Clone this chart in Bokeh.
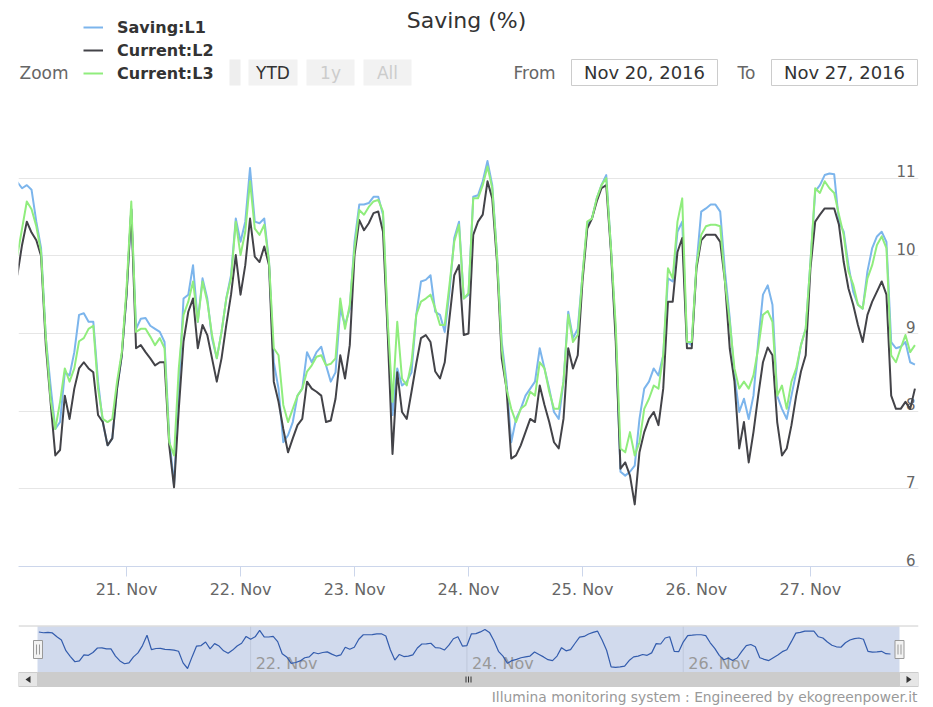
from bokeh.plotting import figure
from bokeh.models import Range1d, FixedTicker, Legend, LegendItem
from bokeh.layouts import column
from bokeh.embed import file_html
from bokeh.resources import INLINE
from bokeh.core.properties import value

FONT = "DejaVu Sans"

# ---------------- data (hourly, hours since 20 Nov 2016 00:00) ----------------
hours = list(range(1, 191))

saving_l1 = [
    10.95, 10.87, 10.91, 10.85, 10.44, 10.10, 8.95, 8.33, 7.77, 7.86,
    8.50, 8.46, 8.76, 9.24, 9.26, 9.15, 9.15, 8.38, 7.86, 7.56,
    7.65, 8.29, 8.72, 9.50, 10.60, 9.06, 9.19, 9.20, 9.10, 9.06,
    9.02, 8.89, 7.65, 7.05, 8.29, 9.45, 9.50, 9.88, 9.15, 9.71,
    9.45, 8.94, 8.68, 9.02, 9.45, 9.75, 10.48, 10.18, 10.44, 11.13,
    10.44, 10.42, 10.48, 9.92, 8.63, 8.29, 7.60, 7.69, 7.86, 8.20,
    8.29, 8.76, 8.63, 8.76, 8.83, 8.59, 8.38, 8.50, 9.32, 9.11,
    9.32, 10.18, 10.66, 10.66, 10.68, 10.76, 10.76, 10.53, 9.06, 7.95,
    8.55, 8.33, 8.38, 8.50, 9.24, 9.67, 9.69, 9.75, 9.28, 9.24,
    9.02, 9.54, 10.23, 10.44, 9.45, 9.50, 10.76, 10.78, 10.96, 11.22,
    10.91, 10.01, 8.89, 8.38, 7.60, 7.90, 8.03, 8.20, 8.29, 8.38,
    8.81, 8.55, 8.29, 7.99, 7.90, 8.38, 9.28, 8.94, 9.06, 9.75,
    10.40, 10.48, 10.74, 10.91, 11.04, 10.10, 9.00, 7.22, 7.17, 7.22,
    7.30, 7.90, 8.29, 8.38, 8.55, 8.46, 8.72, 9.71, 9.67, 10.31,
    10.44, 8.89, 8.85, 9.88, 10.57, 10.61, 10.66, 10.66, 10.57, 9.80,
    9.20, 8.46, 7.99, 8.16, 7.90, 8.20, 8.89, 9.50, 9.62, 9.37,
    8.20, 8.03, 7.90, 8.20, 8.50, 8.85, 9.06, 9.92, 10.83, 10.91,
    11.04, 11.06, 11.05, 10.44, 10.31, 9.88, 9.54, 9.37, 9.32, 9.80,
    10.10, 10.25, 10.31, 10.18, 8.89, 8.81, 8.83, 8.89, 8.63, 8.60,
]

current_l2 = [
    9.75, 10.14, 10.44, 10.30, 10.20, 10.00, 8.85, 8.12, 7.43, 7.50,
    8.20, 7.90, 8.29, 8.55, 8.63, 8.55, 8.50, 7.95, 7.86, 7.56,
    7.65, 8.29, 8.72, 9.50, 10.60, 8.81, 8.85, 8.76, 8.68, 8.59,
    8.63, 8.63, 7.55, 7.02, 8.03, 8.90, 9.28, 9.45, 8.81, 9.11,
    8.98, 8.68, 8.38, 8.68, 9.11, 9.50, 10.01, 9.50, 9.88, 10.48,
    9.99, 9.92, 10.12, 9.88, 8.38, 8.12, 7.77, 7.47, 7.65, 7.82,
    7.90, 8.38, 8.29, 8.25, 8.20, 7.86, 7.88, 8.16, 8.72, 8.42,
    8.85, 10.01, 10.46, 10.33, 10.42, 10.55, 10.57, 10.31, 8.98, 7.45,
    8.50, 7.99, 7.90, 8.25, 8.61, 8.94, 8.98, 8.89, 8.51, 8.42,
    8.63, 9.20, 9.75, 9.88, 8.98, 9.00, 10.27, 10.44, 10.53, 10.96,
    10.74, 9.92, 8.68, 8.29, 7.39, 7.43, 7.56, 7.73, 7.90, 7.86,
    8.33, 8.08, 7.86, 7.60, 7.52, 7.90, 8.81, 8.55, 8.72, 9.67,
    10.35, 10.48, 10.70, 10.87, 10.91, 10.05, 8.90, 7.26, 7.34, 7.17,
    6.80, 7.47, 7.73, 7.90, 7.99, 7.82, 8.29, 9.41, 9.41, 10.05,
    10.23, 8.81, 8.81, 9.84, 10.20, 10.27, 10.27, 10.27, 10.18, 9.67,
    8.81, 8.38, 7.52, 7.86, 7.34, 7.73, 8.20, 8.63, 8.82, 8.72,
    7.86, 7.43, 7.52, 7.82, 8.20, 8.51, 8.72, 9.84, 10.44, 10.53,
    10.61, 10.61, 10.61, 10.40, 9.92, 9.58, 9.37, 9.11, 8.89, 9.24,
    9.41, 9.54, 9.67, 9.50, 8.20, 8.03, 8.03, 8.12, 8.03, 8.29,
]

current_l3 = [
    10.00, 10.35, 10.70, 10.60, 10.38, 10.05, 8.95, 8.16, 7.77, 8.12,
    8.55, 8.38, 8.55, 8.90, 8.94, 9.06, 9.10, 8.29, 7.90, 7.86,
    7.90, 8.38, 8.76, 9.58, 10.70, 9.02, 9.06, 9.06, 8.96, 8.85,
    8.94, 8.81, 7.60, 7.43, 8.55, 9.24, 9.41, 9.67, 9.15, 9.67,
    9.41, 8.98, 8.68, 9.02, 9.45, 9.71, 10.44, 10.01, 10.31, 10.96,
    10.35, 10.27, 10.40, 9.92, 8.81, 8.72, 8.08, 7.86, 8.03, 8.20,
    8.29, 8.51, 8.59, 8.70, 8.72, 8.59, 8.61, 8.68, 9.45, 9.06,
    9.37, 10.10, 10.59, 10.53, 10.63, 10.70, 10.72, 10.57, 9.15, 8.12,
    9.15, 8.42, 8.33, 8.63, 9.24, 9.41, 9.45, 9.50, 9.32, 9.11,
    9.11, 9.63, 10.18, 10.40, 9.45, 9.52, 10.74, 10.74, 10.91, 11.15,
    10.87, 10.01, 8.81, 8.29, 8.03, 7.86, 8.03, 8.08, 8.25, 8.20,
    8.63, 8.55, 8.25, 8.03, 8.03, 8.38, 9.24, 8.89, 8.98, 9.75,
    10.44, 10.48, 10.74, 10.91, 11.00, 10.10, 9.10, 7.52, 7.47, 7.73,
    7.43, 7.60, 8.03, 8.16, 8.33, 8.29, 8.72, 9.84, 9.71, 10.44,
    10.74, 8.89, 8.89, 9.88, 10.27, 10.38, 10.40, 10.40, 10.38, 9.67,
    9.15, 8.55, 8.29, 8.38, 8.29, 8.46, 8.81, 9.24, 9.29, 9.15,
    8.20, 8.33, 8.03, 8.38, 8.55, 8.85, 9.06, 9.92, 10.87, 10.81,
    10.96, 10.87, 10.81, 10.53, 10.27, 9.80, 9.63, 9.37, 9.32, 9.71,
    9.88, 10.14, 10.25, 10.10, 8.72, 8.63, 8.81, 8.98, 8.76, 8.85,
]

series_names = ["Saving:L1", "Current:L2", "Current:L3"]
series_colors = ["#7cb5ec", "#434348", "#90ed7d"]

x_tick_hours = [24, 48, 72, 96, 120, 144, 168]
x_tick_labels = ["21. Nov", "22. Nov", "23. Nov", "24. Nov", "25. Nov", "26. Nov", "27. Nov"]
y_ticks = [6, 7, 8, 9, 10, 11, 12]
y_tick_labels = ["6", "7", "8", "9", "10", "11"]  # top label hidden
nav_tick_hours = [48, 96, 144]
nav_tick_labels = ["22. Nov", "24. Nov", "26. Nov"]

title_text = "Saving (%)"
zoom_label = "Zoom"
range_buttons = ["YTD", "1y", "All"]
from_label, to_label = "From", "To"
from_date, to_date = "Nov 20, 2016", "Nov 27, 2016"
credits_text = "Illumina monitoring system : Engineered by ekogreenpower.it"

W = 933
BL, BR = 18, 15          # shared left/right borders (column aligns frames)

# ---------------- header: title, legend, range selector ----------------
hdr = figure(width=W, height=100, x_range=Range1d(18, 918), y_range=Range1d(100, 0),
             output_backend="svg", toolbar_location=None, title=None,
             x_axis_location=None, y_axis_location=None, min_border=0,
             min_border_left=BL, min_border_right=BR,
             outline_line_color=None, background_fill_color="white", border_fill_color="white")
hdr.xgrid.visible = False
hdr.ygrid.visible = False

hdr.text(x=[466], y=[20], text=[title_text], text_align="center", text_baseline="middle",
         text_font=value(FONT), text_font_size="22px", text_color="#333333")

hdr.text(x=[19], y=[72], text=[zoom_label], text_align="left", text_baseline="middle",
         text_font=value(FONT), text_font_size="17px", text_color="#666666")

# sliver of a hidden button behind legend
hdr.quad(left=[229], right=[240], top=[59], bottom=[85], fill_color="#eeeeee", line_color=None)

btn_left = [248, 306, 363]
btn_right = [297, 354, 411]
hdr.quad(left=btn_left, right=btn_right, top=[59] * 3, bottom=[85] * 3,
         fill_color="#f2f2f2", line_color=None)
hdr.text(x=[(a + b) / 2 for a, b in zip(btn_left, btn_right)], y=[72] * 3, text=range_buttons,
         text_align="center", text_baseline="middle", text_font=value(FONT),
         text_font_size="17px", text_color=["#333333", "#cccccc", "#cccccc"])

hdr.text(x=[513, 737], y=[72, 72], text=[from_label, to_label], text_align="left",
         text_baseline="middle", text_font=value(FONT), text_font_size="17px",
         text_color="#666666")
hdr.quad(left=[571, 771], right=[717, 917], top=[59, 59], bottom=[85, 85],
         fill_color="white", line_color="#cccccc", line_width=1)
hdr.text(x=[644, 844], y=[72, 72], text=[from_date, to_date], text_align="center",
         text_baseline="middle", text_font=value(FONT), text_font_size="18px",
         text_color="#333333")

leg_items = []
for name, col in zip(series_names, series_colors):
    r = hdr.line(x=[-50, -40], y=[-50, -50], line_color=col, line_width=2)
    leg_items.append(LegendItem(label=name, renderers=[r]))
legend = Legend(items=leg_items, location=(65, 17), orientation="vertical",
                padding=0, margin=0, spacing=3, glyph_width=20, glyph_height=20,
                label_height=20, label_standoff=14, label_text_font=FONT,
                label_text_font_size="16px", label_text_font_style="bold",
                label_text_color="#333333", border_line_color=None,
                background_fill_color="white", background_fill_alpha=1.0)
hdr.add_layout(legend)

# ---------------- main chart ----------------
main = figure(width=W, height=508, x_range=Range1d(1.25, 190.75), y_range=Range1d(6, 12),
              output_backend="svg", toolbar_location=None, title=None,
              y_axis_location=None, min_border_left=BL, min_border_right=BR,
              min_border_top=0, min_border_bottom=42, outline_line_color=None,
              background_fill_color="white", border_fill_color="white")
main.xgrid.visible = False
main.ygrid.ticker = FixedTicker(ticks=y_ticks)
main.ygrid.grid_line_color = "#e6e6e6"
main.ygrid.grid_line_width = 1

ax = main.xaxis[0]
ax.ticker = FixedTicker(ticks=x_tick_hours)
ax.major_label_overrides = {h: lab for h, lab in zip(x_tick_hours, x_tick_labels)}
ax.axis_line_color = "#ccd6eb"
ax.major_tick_line_color = "#ccd6eb"
ax.major_tick_out = 10
ax.major_tick_in = 0
ax.minor_tick_line_color = None
ax.major_label_text_font = FONT
ax.major_label_text_font_size = "16px"
ax.major_label_text_color = "#666666"
ax.major_label_standoff = 3

main.text(x=[main.x_range.end] * len(y_tick_labels), y=y_ticks[:len(y_tick_labels)],
          text=y_tick_labels, text_align="right", text_baseline="middle",
          x_offset=-3, y_offset=-7, text_font=value(FONT), text_font_size="15px",
          text_color="#666666")

for vals, col in zip([saving_l1, current_l2, current_l3], series_colors):
    main.line(hours, vals, line_color=col, line_width=2, line_join="round")

# ---------------- navigator + scrollbar + credits ----------------
nav = figure(width=W, height=99, x_range=Range1d(18, 918), y_range=Range1d(707, 608),
             output_backend="svg", toolbar_location=None, title=None,
             x_axis_location=None, y_axis_location=None, min_border=0,
             min_border_left=BL, min_border_right=BR,
             outline_line_color=None, background_fill_color="white", border_fill_color="white")
nav.xgrid.visible = False
nav.ygrid.visible = False

vmin, vmax = min(saving_l1), max(saving_l1)
k = (668 - 629) / (vmax - vmin)
nav.extra_x_ranges = {"hours": Range1d(-3.52, 196.22)}
nav.extra_y_ranges = {"val": Range1d(vmin - (707 - 668) / k, vmax + (629 - 608) / k)}

nav.segment(x0=nav_tick_hours, x1=nav_tick_hours, y0=[626] * 3, y1=[672] * 3,
            x_range_name="hours", line_color="#e6e6e6", line_width=1)
nav.quad(left=[37], right=[899], top=[626], bottom=[672], fill_color="#6685c2",
         fill_alpha=0.3, line_color=None)
nav.text(x=nav_tick_hours, y=[663] * 3, text=nav_tick_labels, x_range_name="hours",
         x_offset=5, text_align="left", text_baseline="middle", text_font=value(FONT),
         text_font_size="16px", text_color="#999999")
nav.line(hours, saving_l1, x_range_name="hours", y_range_name="val",
         line_color="#335cad", line_width=1.2)
nav.segment(x0=[18], x1=[918], y0=[625.5], y1=[625.5], line_color="#cccccc", line_width=1)

# handles
nav.quad(left=[33, 894.5], right=[42, 903.5], top=[640, 640], bottom=[658, 658],
         fill_color="#f2f2f2", line_color="#999999", line_width=1)
nav.segment(x0=[36, 39, 897.5, 900.5], x1=[36, 39, 897.5, 900.5],
            y0=[644] * 4, y1=[654] * 4, line_color="#999999", line_width=1)

# scrollbar
nav.quad(left=[18], right=[918], top=[672], bottom=[686], fill_color="#f2f2f2", line_color=None)
nav.quad(left=[37], right=[899], top=[672], bottom=[686], fill_color="#cccccc", line_color="#cccccc")
nav.quad(left=[18, 899], right=[37, 918], top=[672, 672], bottom=[686, 686],
         fill_color="#e6e6e6", line_color="#cccccc")
nav.patches(xs=[[25, 30, 30], [911, 906, 906]], ys=[[679, 675.5, 682.5], [679, 675.5, 682.5]],
            fill_color="#333333", line_color=None)
nav.segment(x0=[465.5, 468, 470.5], x1=[465.5, 468, 470.5], y0=[676] * 3, y1=[682] * 3,
            line_color="#333333", line_width=1)

nav.text(x=[917], y=[696], text=[credits_text], text_align="right", text_baseline="middle",
         text_font=value(FONT), text_font_size="13.8px", text_color="#999999")

layout = column(hdr, main, nav, spacing=0)
open("out.html", "w").write(file_html(layout, INLINE))
